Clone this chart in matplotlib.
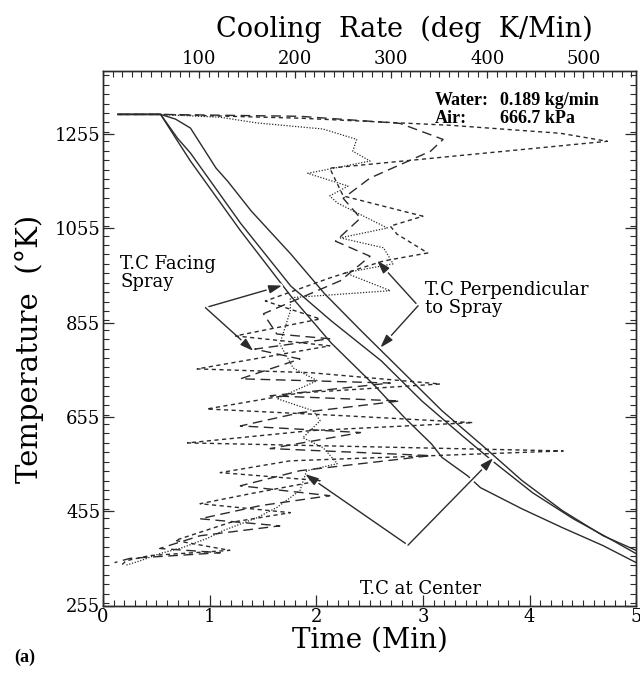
import numpy as np
import matplotlib
matplotlib.use("Agg")
import matplotlib.pyplot as plt
from matplotlib.ticker import MultipleLocator
import matplotlib.patheffects as pe

# Thermocouple temperature vs time (bottom axis, Min / deg K)
time_left = [0.14, 0.54, 0.70, 0.82, 1.29, 1.76, 2.14, 2.55, 2.83, 3.08, 3.18, 3.42, 3.54, 3.93, 4.31, 4.69, 5.0]
temp_left = [1297, 1297, 1240, 1198, 1050, 912, 812, 721, 653, 598, 569, 530, 505, 460, 420, 382, 346]
time_mid = [0.14, 0.54, 0.70, 0.82, 1.29, 1.76, 2.14, 2.61, 2.99, 3.37, 3.65, 4.03, 4.41, 4.78, 5.0]
temp_mid = [1297, 1297, 1246, 1215, 1066, 933, 859, 774, 689, 615, 562, 494, 439, 393, 365]
time_right = [0.14, 0.54, 0.68, 0.82, 1.06, 1.17, 1.39, 1.76, 2.08, 2.42, 2.80, 3.18, 3.56, 3.93, 4.31, 4.69, 5.0]
temp_right = [1297, 1297, 1287, 1268, 1183, 1155, 1092, 1001, 916, 838, 753, 668, 594, 520, 456, 403, 372]

# Cooling rate vs temperature (top axis, deg K/Min)
rate_dot = [15, 59, 122, 160, 229, 264, 260, 278, 213, 255, 236, 244, 296, 247, 292, 302, 252, 299,
            195, 195, 184, 198, 223, 181, 219, 226, 208, 229, 244, 212, 205, 181, 160, 125, 108, 83, 59, 39, 23]
temp_dot = [1297, 1297, 1291, 1279, 1266, 1244, 1219, 1198, 1172, 1145, 1124, 1109, 1056, 1035, 1014, 980, 961, 923,
            908, 880, 810, 759, 732, 694, 668, 647, 611, 590, 556, 541, 499, 463, 441, 414, 397, 378, 365, 350, 340]

rate_short = [16, 59, 205, 361, 476, 525, 236, 250, 333, 299, 306, 338, 292, 236, 169, 226, 138, 236, 98, 216,
              351, 205, 108, 257, 385, 216, 88, 479, 195, 122, 226, 158, 101, 195, 132, 75, 132, 49, 24, 18]
temp_short = [1297, 1297, 1289, 1274, 1257, 1240, 1183, 1124, 1081, 1060, 1043, 1003, 986, 950, 901, 863, 827, 806, 757, 749,
              725, 706, 672, 657, 643, 626, 600, 583, 562, 537, 520, 494, 471, 452, 431, 393, 372, 361, 350, 338]

rate_long = [16, 59, 205, 309, 354, 341, 278, 250, 268, 242, 278, 247, 167, 181, 236, 158, 205, 143, 299,
             174, 309, 205, 143, 268, 174, 341, 205, 143, 236, 164, 101, 184, 101, 59, 122, 28, 12]
temp_long = [1297, 1297, 1293, 1278, 1244, 1219, 1162, 1119, 1077, 1028, 996, 944, 874, 831, 821, 799, 778, 736, 727,
             700, 689, 664, 636, 622, 588, 573, 541, 509, 488, 467, 439, 424, 403, 376, 367, 355, 346]

TEMP_TICKS = [255, 455, 655, 855, 1055, 1255]
RATE_TICKS = [100, 200, 300, 400, 500]

LINE_COLOR = '#2b2b2b'

plt.rcParams['font.family'] = ['DejaVu Serif']

fig = plt.figure(figsize=(6.4, 6.92), dpi=100)
ax = fig.add_axes([0.161, 0.125, 0.833, 0.773])

ax.plot(time_left, temp_left, color=LINE_COLOR, lw=1.0)
ax.plot(time_mid, temp_mid, color=LINE_COLOR, lw=1.0)
ax.plot(time_right, temp_right, color=LINE_COLOR, lw=1.0)

ax.set_xlim(0, 5)
ax.set_ylim(255, 1390)
ax.set_yticks(TEMP_TICKS)
ax.xaxis.set_major_locator(MultipleLocator(1))
ax.xaxis.set_minor_locator(MultipleLocator(0.1))
ax.yaxis.set_minor_locator(MultipleLocator(20))
ax.tick_params(which='both', direction='in', right=True, labelsize=13, pad=2, color=LINE_COLOR)
ax.tick_params(which='major', length=8, width=0.9)
ax.tick_params(which='minor', length=4, width=0.8)
ax.set_xlabel('Time (Min)', fontsize=20, labelpad=0)
ax.set_ylabel('Temperature  (°K)', fontsize=21)
ax.yaxis.set_label_coords(-0.11, 0.48)

ax2 = ax.twiny()
ax2.plot(rate_dot, temp_dot, color=LINE_COLOR, lw=0.9, linestyle=(0, (1, 1.3)))
ax2.plot(rate_short, temp_short, color=LINE_COLOR, lw=1.0, linestyle=(0, (3, 2.5)))
ax2.plot(rate_long, temp_long, color=LINE_COLOR, lw=1.0, linestyle=(0, (7, 4)))
ax2.set_xlim(0, 555)
ax2.set_xticks(RATE_TICKS)
ax2.xaxis.set_minor_locator(MultipleLocator(10))
ax2.tick_params(which='both', direction='in', labelsize=13, pad=2, color=LINE_COLOR)
ax2.tick_params(which='major', length=5, width=0.9)
ax2.tick_params(which='minor', length=4, width=0.8)
ax2.set_xlabel('Cooling  Rate  (deg  K/Min)', fontsize=19.5)
ax2.xaxis.set_label_coords(0.565, 1.062)

for a in (ax, ax2):
    for spine in a.spines.values():
        spine.set_linewidth(1.0)
        spine.set_color(LINE_COLOR)

arrow_kw = dict(arrowstyle='-|>,head_length=0.8,head_width=0.25', color=LINE_COLOR, lw=1.0,
                shrinkA=0, shrinkB=0)
halo = [pe.withStroke(linewidth=4, foreground='white')]

def callout(text, text_xy, joint, tips, ha='left'):
    ax.text(*text_xy, text, fontsize=13, ha=ha, va='center', linespacing=1.0, zorder=5)
    for tip in tips:
        ann = ax.annotate('', xy=tip, xytext=joint, arrowprops=arrow_kw, zorder=6)
        ann.arrow_patch.set_path_effects(halo)

callout('T.C Facing\nSpray', (0.16, 961), (0.96, 887), [(1.68, 934), (1.41, 795)])
callout('T.C Perpendicular\nto Spray', (3.02, 906), (2.955, 891), [(2.57, 987), (2.60, 802)])
callout('T.C at Center', (2.98, 290), (2.86, 383), [(1.895, 534), (3.66, 568)], ha='center')

info_kw = dict(transform=ax.transAxes, fontsize=13, fontweight='bold', family='Liberation Serif', va='center')
ax.text(0.623, 0.945, 'Water:', **info_kw)
ax.text(0.745, 0.945, '0.189 kg/min', **info_kw)
ax.text(0.623, 0.911, 'Air:', **info_kw)
ax.text(0.745, 0.911, '666.7 kPa', **info_kw)

fig.text(0.022, 0.05, '(a)', fontsize=13, fontweight='bold', family='Liberation Serif', va='center')

fig.savefig('out.png', dpi=100)
